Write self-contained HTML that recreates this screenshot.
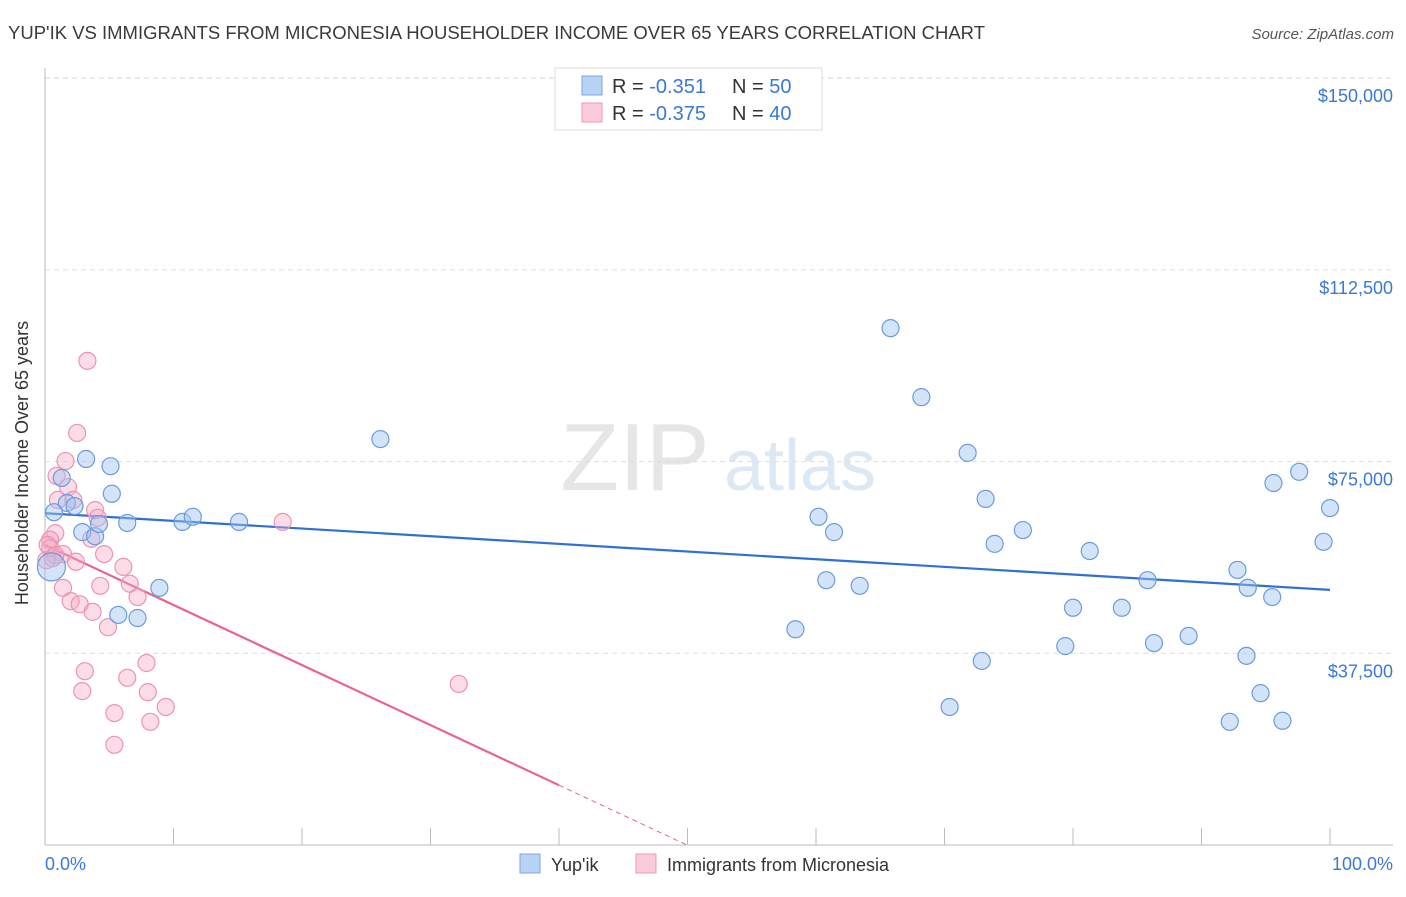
<!DOCTYPE html>
<html><head><meta charset="utf-8"><style>
body{margin:0;background:#fff;font-family:"Liberation Sans",sans-serif}
svg text{font-family:"Liberation Sans",sans-serif}
</style></head><body>
<svg id="chart" width="1406" height="892">
<text x="8" y="39" font-size="18.5" fill="#3a3a3a">YUP'IK VS IMMIGRANTS FROM MICRONESIA HOUSEHOLDER INCOME OVER 65 YEARS CORRELATION CHART</text>
<text x="1394" y="39" font-size="15" fill="#555" font-style="italic" text-anchor="end">Source: ZipAtlas.com</text>
<g><text x="635" y="490" font-size="96" fill="#e6e6e6" font-family="Liberation Serif" text-anchor="middle">ZIP</text><text x="800" y="490" font-size="72" fill="#dde8f5" text-anchor="middle">atlas</text></g>
<g id="grid"></g>
<line x1="45" y1="68" x2="45" y2="845" stroke="#bbb"/>
<line x1="45" y1="845" x2="1393" y2="845" stroke="#bbb"/>
<text x="22" y="457" font-size="18" fill="#333" text-anchor="middle" transform="rotate(-90 28 457)">Householder Income Over 65 years</text>
<text x="45" y="870" font-size="18" fill="#3a78d8">0.0%</text>
<text x="1393" y="870" font-size="18" fill="#3a78d8" text-anchor="end">100.0%</text>
<g id="lines"></g><g id="pts"></g>
<g>
<rect x="555" y="68" width="267" height="62" fill="#fff" stroke="#ddd"/>
<rect x="582" y="76" width="20" height="19" fill="#b9d3f5" stroke="#7aa6e6"/>
<rect x="582" y="103" width="20" height="19" fill="#fbcbda" stroke="#ee9ab6"/>
<text x="612" y="93" font-size="20" fill="#333">R = <tspan fill="#3a78d8"> -0.351</tspan><tspan x="732">N = </tspan><tspan fill="#3a78d8">50</tspan></text>
<text x="612" y="120" font-size="20" fill="#333">R = <tspan fill="#3a78d8">-0.375</tspan><tspan x="732">N = </tspan><tspan fill="#3a78d8">40</tspan></text>
</g>
<g>
<rect x="520" y="854" width="20" height="19" fill="#b9d3f5" stroke="#7aa6e6"/>
<text x="551" y="871" font-size="18" fill="#333">Yup'ik</text>
<rect x="636" y="854" width="20" height="19" fill="#fbcbda" stroke="#ee9ab6"/>
<text x="667" y="871" font-size="18" fill="#333">Immigrants from Micronesia</text>
</g>
</svg>
<script>
const yTicks=[37500,75000,112500,150000];
const yTickLabels=["$37,500","$75,000","$112,500","$150,000"];
const xTicks=[0,10,20,30,40,50,60,70,80,90,100];
const blueX=[65.8,68.2,71.8,26.1,73.2,76.1,73.9,81.3,60.2,61.4,60.8,63.4,58.4,80.0,83.8,85.8,79.4,86.3,89.0,72.9,70.4,92.8,93.6,95.5,93.5,94.6,92.2,96.3,97.6,95.6,100,99.5,3.2,5.1,1.3,5.2,1.7,2.3,0.7,6.4,10.7,11.5,15.1,2.9,3.9,4.2,8.9,5.7,7.2,0.5];
const blueY=[101100,87600,76700,79400,67700,61600,58900,57500,64200,61200,51800,50700,42200,46400,46400,51800,38900,39500,40900,36000,27000,53800,50300,48500,37000,29700,24100,24300,73000,70800,65900,59300,75500,74100,71800,68700,66900,66300,65100,63000,63200,64200,63200,61200,60400,62800,50300,45000,44400,54400];
const pinkX=[3.3,2.5,1.6,0.9,1.8,1.0,2.2,3.9,4.1,0.8,0.4,0.4,1.4,0.6,2.4,4.6,6.1,3.6,1.4,4.3,6.6,7.2,2.0,2.7,3.7,4.9,18.5,3.1,7.9,6.4,2.9,8.0,9.4,5.4,8.2,5.4,32.2,0.2,0.8,0.1];
const pinkY=[94700,80600,75100,72200,70000,67500,67500,65500,64000,61000,59700,58100,56900,56100,55400,56900,54400,59900,50300,50700,51100,48500,47700,47100,45600,42600,63200,34000,35600,32700,30100,29900,27000,25800,24100,19600,31500,58700,56700,55700];
const blueTrend=[64900,49900];
const pinkTrend=[58700,-1175];
const NS="http://www.w3.org/2000/svg";
const sx=v=>45+v*12.85, sy=v=>845-v/195.6;
function mk(t,a,p){const e=document.createElementNS(NS,t);for(const k in a)e.setAttribute(k,a[k]);p.appendChild(e);return e;}
const grid=document.getElementById('grid');
yTicks.forEach((v,i)=>{
 const l=mk('line',{x1:45,x2:1393,y1:sy(v),y2:sy(v),stroke:'#ddd','stroke-dasharray':'5,4'},grid);
 
 
 const t=mk('text',{x:1393,y:sy(v)+24,'font-size':18,fill:'#3a78d8','text-anchor':'end'},grid);
 t.textContent=yTickLabels[i];
 
 
});
mk('line',{x1:45,x2:1393,y1:sy(150000)+0,y2:sy(150000),stroke:'#ddd','stroke-dasharray':'5,4'},grid);
xTicks.forEach(v=>{
 const l=mk('line',{x1:sx(v),x2:sx(v),y1:828,y2:845,stroke:'#bbb'},grid);
 
 
});
const lines=document.getElementById('lines');
const bl=mk('line',{x1:sx(0),y1:sy(blueTrend[0]),x2:sx(100),y2:sy(blueTrend[1]),stroke:'#2f6fd6','stroke-width':2.2},lines);


const pEnd=-pinkTrend[0]/pinkTrend[1];
const pl=mk('line',{x1:sx(0),y1:sy(pinkTrend[0]),x2:sx(40),y2:sy(pinkTrend[0]+pinkTrend[1]*40),stroke:'#e8648e','stroke-width':2.2},lines);


const pd=mk('line',{x1:sx(40),y1:sy(pinkTrend[0]+pinkTrend[1]*40),x2:sx(pEnd),y2:sy(0),stroke:'#e8648e','stroke-width':1,'stroke-dasharray':'5,4'},lines);


const pts=document.getElementById('pts');
pinkX.forEach((x,i)=>{
 const c=mk('circle',{cx:sx(x),cy:sy(pinkY[i]),r:8.5,fill:'rgba(246,168,194,0.4)',stroke:'#ec94b2','stroke-width':1.2},pts);
 
 
});
blueX.forEach((x,i)=>{
 const c=mk('circle',{cx:sx(x),cy:sy(blueY[i]),r:i==49?14:8.5,fill:'rgba(160,196,240,0.45)',stroke:'#6a9be0','stroke-width':1.2},pts);
 
 
});
</script>
</body></html>
